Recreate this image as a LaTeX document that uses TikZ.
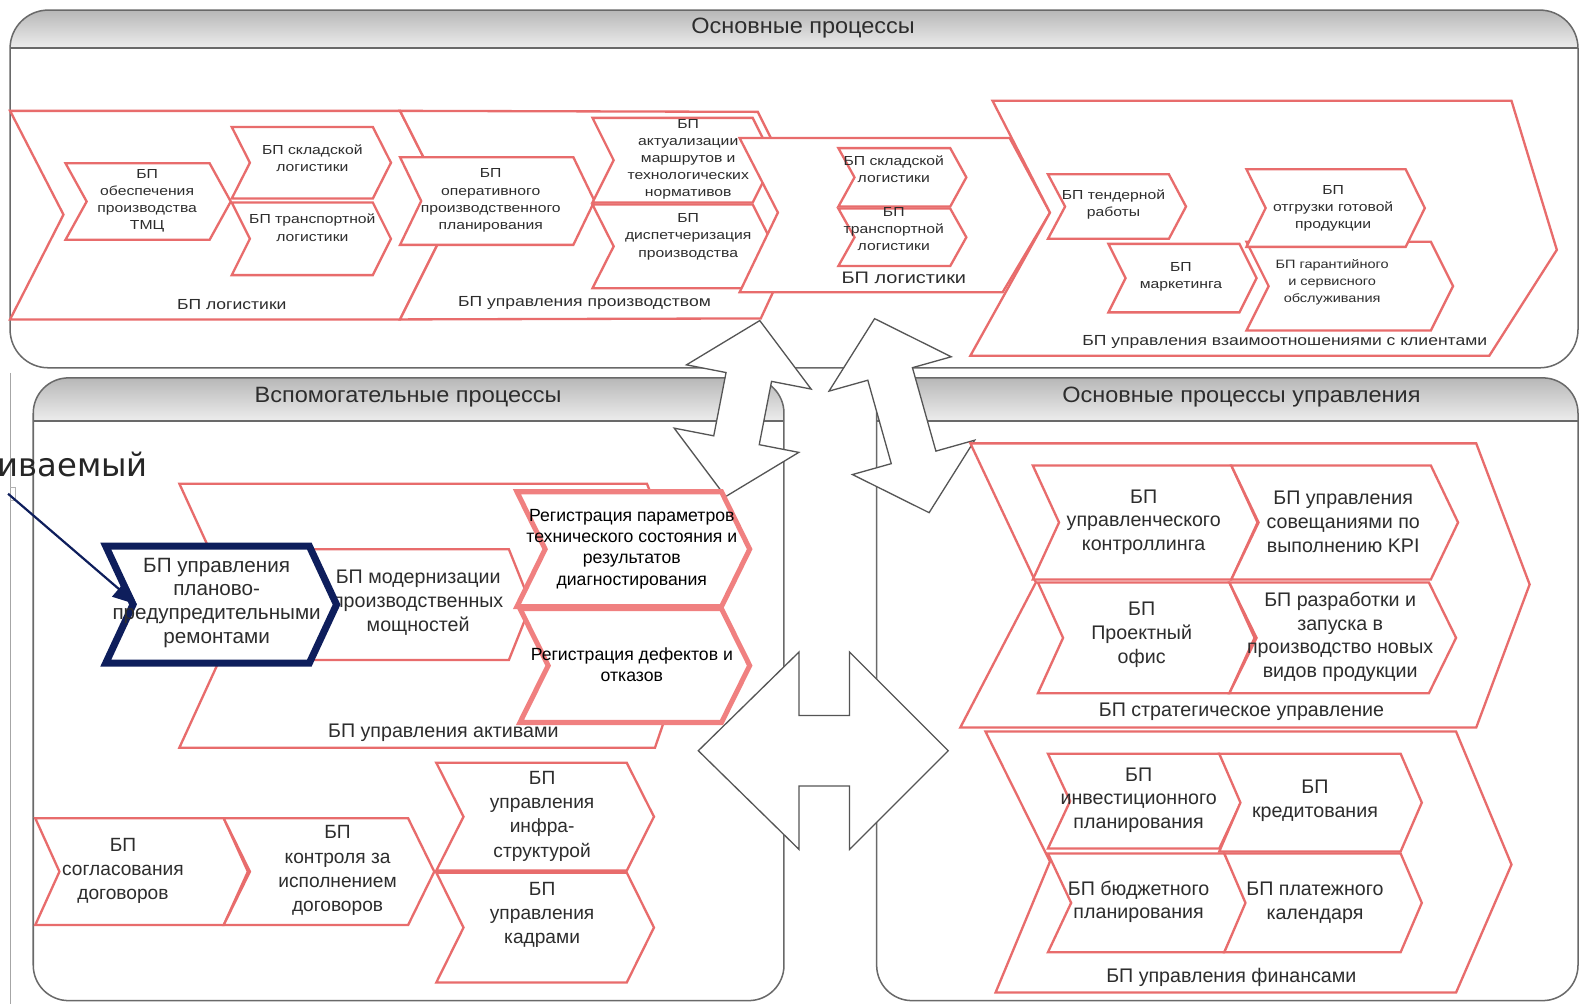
\documentclass[tikz,border=0pt]{standalone}
\usepackage{fontspec}
\setmainfont{Liberation Sans}
\newfontfamily\widefont[FakeStretch=1.2]{Liberation Sans}
\newfontfamily\headfont[FakeStretch=1.06]{Liberation Sans}
\newfontfamily\notefont{DejaVu Sans}
\usetikzlibrary{arrows.meta}
\definecolor{chev}{RGB}{232,108,108}
\definecolor{chevlt}{RGB}{240,128,128}
\definecolor{navy}{RGB}{14,30,92}
\definecolor{frame}{RGB}{105,105,105}
\definecolor{txt}{RGB}{45,45,45}
\definecolor{arrline}{RGB}{85,85,85}
\tikzset{
  chevbox/.style={draw=chev, fill=white, line width=2.3, line join=miter},
  regbox/.style={draw=chevlt, fill=white, line width=5, line join=miter},
  hlbox/.style={draw=navy, fill=white, line width=7, line join=miter},
  panel/.style={draw=frame, line width=1.5, rounded corners=35},
  arr/.style={draw=arrline, fill=white, line width=1.3, line join=miter},
  ts/.style={font=\widefont\fontsize{13}{17}\selectfont, align=center, text=txt, inner sep=0},
  tl/.style={font=\widefont\fontsize{14.5}{17}\selectfont, text=txt, inner sep=0},
  bs/.style={font=\fontsize{19.5}{23.5}\selectfont, align=center, text=txt, inner sep=0},
  ls/.style={font=\fontsize{19}{24}\selectfont, align=center, text=txt, inner sep=0},
  rs/.style={font=\fontsize{17.5}{21}\selectfont, align=center, text=black, inner sep=0},
  hs/.style={font=\headfont\fontsize{22}{24}\selectfont, text=txt, inner sep=0},
}
% chevron: [style]{x1}{y1}{x2}{y2}{depth}
\newcommand\chv[6][chevbox]{%
  \pgfmathsetmacro\cym{(#3+#5)/2}%
  \pgfmathsetmacro\cxa{#4+#6}%
  \pgfmathsetmacro\cxb{#2+#6}%
  \draw[#1] (#2,#3) -- (#4,#3) -- (\cxa,\cym) -- (#4,#5) -- (#2,#5) -- (\cxb,\cym) -- cycle;}
% tilted double-headed block arrow: {cx}{cy}{angle}{length}
\newcommand\dblarrow[4]{%
  \begin{scope}[shift={(#1,#2)}, rotate=#3]
    \pgfmathsetmacro\ahl{#4/2}\pgfmathsetmacro\ahb{#4/2-57}%
    \draw[arr] (0,-\ahl) -- (63,-\ahb) -- (23,-\ahb) -- (23,\ahb) -- (63,\ahb) -- (0,\ahl)
      -- (-63,\ahb) -- (-23,\ahb) -- (-23,-\ahb) -- (-63,-\ahb) -- cycle;
  \end{scope}}
\begin{document}
\begin{tikzpicture}[x=1pt,y=-1pt]
\useasboundingbox (0,0) rectangle (1568,996);
\fill[white] (0,0) rectangle (1568,996);

% ---------- panels ----------
\draw[gray!70, line width=1] (10,370) -- (10,996);
\draw[gray!60, line width=1] (10,484) -- (15,484) -- (15,497) -- (10,497);

\begin{scope}\clip[rounded corners=38] (10,10) rectangle (1566,365);
  \shade[top color=white!72!black, bottom color=white!93!black] (10,10) rectangle (1566,48);
\end{scope}
\draw[frame, line width=2] (10,48) -- (1566,48);
\draw[panel, rounded corners=38] (10,10) rectangle (1566,365);
\node[hs] (hmain) at (797,28) {Основные процессы};

\begin{scope}\clip[rounded corners=35] (33,375) rectangle (778,993);
  \shade[top color=white!72!black, bottom color=white!93!black] (33,375) rectangle (778,418);
\end{scope}
\draw[frame, line width=2] (33,418) -- (778,418);
\draw[panel] (33,375) rectangle (778,993);
\node[hs] (haux) at (405,394) {Вспомогательные процессы};

\begin{scope}\clip[rounded corners=35] (870,375) rectangle (1566,993);
  \shade[top color=white!72!black, bottom color=white!93!black] (870,375) rectangle (1566,418);
\end{scope}
\draw[frame, line width=2] (870,418) -- (1566,418);
\draw[panel] (870,375) rectangle (1566,993);
\node[hs] (hmgmt) at (1232,394) {Основные процессы управления};

% ---------- block arrows ----------
\dblarrow{737}{405.5}{-11}{178}
\dblarrow{895}{412.5}{15.7}{200}
\draw[arr] (693,745) -- (793,647) -- (793,710) -- (843,710) -- (843,647) -- (941,745)
  -- (843,843) -- (843,780) -- (793,780) -- (793,843) -- cycle;

% ---------- core processes ----------
\draw[chevbox] (10,110) -- (397,110) -- (449,213) -- (397,317) -- (10,317) -- (63,213) -- cycle;
\chv{65}{162}{208}{238}{21}
\chv{230}{126}{370}{197}{18}
\chv{230}{201}{370}{273}{18}
\node[ts] (tmc) at (146,199) {БП\\обеспечения\\производства\\ТМЦ};
\node[ts] (skl1) at (310,157) {БП складской\\логистики};
\node[ts] (tr1) at (310,226) {БП транспортной\\логистики};
\node[tl] (log1) at (230,302) {БП логистики};

\draw[chevbox] (397,110) -- (752,111) -- (803,213) -- (755,316) -- (397,317) -- (449,213) -- cycle;
\chv{397}{156}{569}{243}{21}
\chv{588}{117}{747}{201}{21}
\chv{588}{203}{747}{286}{21}
\node[ts] (oper) at (487,199) {БП\\оперативного\\производственного\\планирования};
\node[ts] (akt) at (683,158) {БП\\актуализации\\маршрутов и\\технологических\\нормативов};
\node[ts] (disp) at (683,235) {БП\\диспетчеризация\\производства};
\node[tl] (prod) at (580,301) {БП управления производством};

\draw[chevbox] (734,137) -- (1002,137) -- (1042,211) -- (995,290) -- (734,290) -- (772,211) -- cycle;
\chv{832}{147}{943}{205}{16}
\chv{832}{207}{943}{264}{16}
\node[ts] (skl2) at (887,168) {БП складской\\логистики};
\node[ts] (tr2) at (887,227) {БП\\транспортной\\логистики};
\node[tl, font=\widefont\fontsize{16.5}{18}\selectfont] (log2) at (897,276) {БП логистики};

\draw[chevbox] (985,100) -- (1500,100) -- (1545,248) -- (1478,353) -- (963,353) -- (1042,211) -- cycle;
\chv{1040}{173}{1160}{237}{17}
\chv{1100}{242}{1230}{310}{17}
\chv{1237}{240}{1420}{328}{22}
\chv{1237}{168}{1395}{245}{19}
\node[ts] (tend) at (1105,203) {БП тендерной\\работы};
\node[ts] (mark) at (1172,275) {БП\\маркетинга};
\node[ts] (otgr) at (1323,207) {БП\\отгрузки готовой\\продукции};
\node[ts, font=\widefont\fontsize{12}{17}\selectfont] (gar) at (1322,280) {БП гарантийного\\и сервисного\\обслуживания};
\node[tl] (crm) at (1275,339) {БП управления взаимоотношениями с клиентами};

% ---------- auxiliary processes ----------
\draw[chevbox] (178,480) -- (642,480) -- (695,611) -- (650,742) -- (178,742) -- (238,611) -- cycle;
\node[bs] (assets) at (440,727) {БП управления активами};
\chv{310}{545}{505}{655}{22}
\node[bs] (modern) at (415,598) {БП модернизации\\производственных\\мощностей};
\chv[regbox]{513}{488}{716}{602}{28}
\chv[regbox]{516}{604}{716}{717}{28}
\node[rs] (reg1) at (627,545) {Регистрация параметров\\технического состояния и\\результатов\\диагностирования};
\node[rs] (reg2) at (627,660) {Регистрация дефектов и\\отказов};
\chv[hlbox]{105}{542}{307}{658}{27}
\node[bs, font=\fontsize{20.5}{23.5}\selectfont] (ppr) at (215,598) {БП управления\\планово-\\предупредительными\\ремонтами};

\chv{35}{812}{222}{918}{24}
\chv{222}{812}{405}{918}{26}
\chv{433}{757}{622}{864}{27}
\chv{433}{866}{622}{975}{27}
\node[ls] (sogl) at (122,864) {БП\\согласования\\договоров};
\node[ls] (kontr) at (335,864) {БП\\контроля за\\исполнением\\договоров};
\node[ls] (infra) at (538,810) {БП\\управления\\инфра-\\структурой};
\node[ls] (kadr) at (538,908) {БП\\управления\\кадрами};

% ---------- management processes ----------
\draw[chevbox] (963,440) -- (1465,440) -- (1518,580) -- (1465,722) -- (953,722) -- (1028,578) -- cycle;
\chv{1025}{462}{1222}{575}{26}
\chv{1222}{462}{1420}{575}{27}
\chv{1030}{578}{1220}{688}{25}
\chv{1220}{578}{1418}{688}{27}
\node[bs] (ctrl) at (1135,518) {БП\\управленческого\\контроллинга};
\node[bs] (kpi) at (1333,518) {БП управления\\совещаниями по\\выполнению KPI};
\node[bs] (proj) at (1133,630) {БП\\Проектный\\офис};
\node[bs] (newp) at (1330,632) {БП разработки и\\запуска в\\производство новых\\видов продукции};
\node[bs] (strat) at (1232,706) {БП стратегическое управление};

\draw[chevbox] (978,726) -- (1445,726) -- (1500,858) -- (1445,985) -- (988,985) -- (1042,855) -- cycle;
\chv{1040}{748}{1210}{842}{22}
\chv{1210}{748}{1390}{845}{21}
\chv{1040}{847}{1215}{945}{23}
\chv{1215}{847}{1390}{945}{21}
\node[bs] (inv) at (1130,794) {БП\\инвестиционного\\планирования};
\node[bs] (kred) at (1305,795) {БП\\кредитования};
\node[bs] (budg) at (1130,895) {БП бюджетного\\планирования};
\node[bs] (plat) at (1305,896) {БП платежного\\календаря};
\node[bs] (fin) at (1222,970) {БП управления финансами};

% ---------- callout ----------
\node[font=\notefont\fontsize{32}{33}\selectfont, text=black!85, anchor=base east, inner sep=0] (note) at (147,473) {иваемый};
\coordinate (notestart) at (8,490);
\coordinate (ppin) at (136,600);
\draw[navy, line width=2.2, -{Triangle[length=24pt,width=20pt]}] (notestart) -- (ppin);
\end{tikzpicture}
\end{document}
